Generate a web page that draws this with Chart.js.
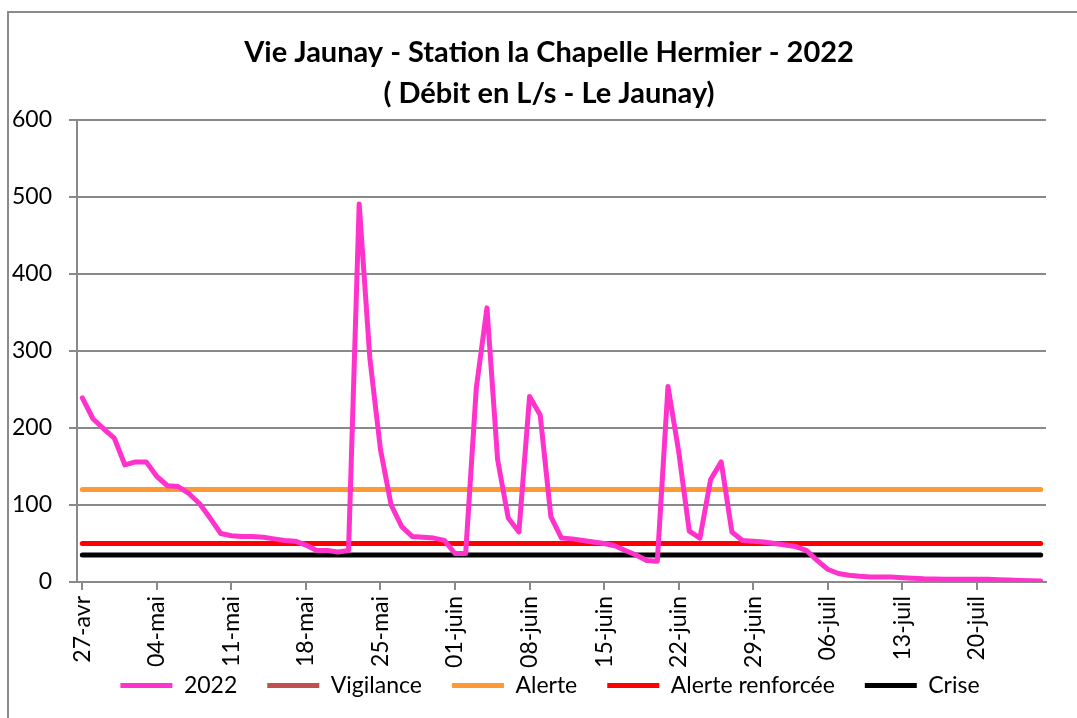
<!DOCTYPE html>
<html>
<head>
<meta charset="utf-8">
<script src="https://cdn.jsdelivr.net/npm/chart.js@4"></script>
<style>
  body { margin: 0; background: #fff; }
  #wrap { position: relative; width: 1077px; height: 718px; overflow: hidden; }
  #frame { position: absolute; left: 7px; top: 11px; width: 1200px; height: 800px;
           border-left: 2px solid #8a8a8a; border-top: 2px solid #8a8a8a; }
  #chart { position: absolute; left: 0; top: 0; }
</style>
</head>
<body>
<div id="wrap">
  <div id="frame"></div>
  <canvas id="chart" width="1077" height="718"></canvas>
</div>
<script>
// days shown on the category axis (27 avril -> 26 juillet 2022)
const months = [
    { name: 'avr', from: 27, to: 30 },
    { name: 'mai', from: 1, to: 31 },
    { name: 'juin', from: 1, to: 30 },
    { name: 'juil', from: 1, to: 26 }
];
const days = [];
months.forEach(m => {
    for (let d = m.from; d <= m.to; d++) {
        days.push(String(d).padStart(2, '0') + '-' + m.name);
    }
});

// débit journalier 2022 (L/s)
const debit2022 = [
    239, 212, 199, 187, 152, 156, 156, 137, 125, 124,
    115, 102, 83, 63, 60, 59, 59, 58, 56, 54,
    53, 48, 41, 41, 39, 41, 491, 291, 172, 100,
    72, 59, 58, 57, 54, 37, 37, 252, 356, 159,
    83, 65, 241, 217, 85, 57, 56, 54, 52, 50,
    47, 41, 35, 28, 27, 254, 170, 66, 57, 133,
    156, 65, 54, 53, 52, 50, 48, 46, 41, 28,
    16.5, 11, 8.7, 7.4, 6.5, 6.5, 6.5, 5.6, 5, 4.3,
    4, 3.5, 3.5, 3.5, 3.5, 3.5, 3, 2.5, 2, 1.7,
    1.3
];

// seuils (L/s)
const seuilVigilance = [];
const seuilAlerte = [120, 120];
const seuilAlerteRenforcee = [50, 50];
const seuilCrise = [35, 35];

const yTicks = [0, 100, 200, 300, 400, 500, 600];

const first = days[0];
const last = days[days.length - 1];
const seuil = vals => vals.map((v, i) => ({ x: i === 0 ? first : last, y: v }));

const font = "Lato, 'Liberation Sans', sans-serif";
const grey = '#898989';

// pull the legend up under the x labels, and centre legend + title like the original
const boxShift = {
    id: 'boxShift',
    afterLayout(chart) {
        const l = chart.legend;
        l.top -= 24;
        l.left += 22; l.right += 22;
        const t = chart.titleBlock;
        t.left += 21; t.right += 21;
    }
};

document.addEventListener('DOMContentLoaded', () => {
    const line = (label, data, color) => ({
        label: label,
        data: data,
        borderColor: color,
        backgroundColor: color,
        borderWidth: 5,
        pointRadius: 0,
        tension: 0,
        fill: false,
        borderCapStyle: 'round',
        borderJoinStyle: 'round'
    });

    const data = {
        labels: days,
        datasets: [
            line('2022', debit2022, '#ff33cc'),
            line('Vigilance', seuilVigilance, '#c0504d'),
            line('Alerte', seuil(seuilAlerte), '#ff9933'),
            line('Alerte renforcée', seuil(seuilAlerteRenforcee), '#ff0000'),
            line('Crise', seuil(seuilCrise), '#000000')
        ]
    };

    const config = {
        type: 'line',
        data: data,
        plugins: [boxShift],
        options: {
            responsive: false,
            animation: false,
            layout: {
                padding: { left: 10, right: 31, top: 0, bottom: 0 }
            },
            plugins: {
                title: {
                    display: true,
                    text: ['Vie Jaunay - Station la Chapelle Hermier - 2022', '( Débit en L/s - Le Jaunay)'],
                    color: '#000',
                    font: { family: font, size: 29, weight: 'bold', lineHeight: 1.414 },
                    padding: { top: 32, bottom: 6 }
                },
                legend: {
                    position: 'bottom',
                    maxHeight: 50,
                    labels: {
                        color: '#000',
                        font: { family: font, size: 23 },
                        boxWidth: 52,
                        boxHeight: 5,
                        padding: 30,
                        generateLabels: chart => Chart.defaults.plugins.legend.labels.generateLabels(chart)
                            .map(item => Object.assign(item, { lineWidth: 0 }))
                    }
                },
                tooltip: { enabled: false }
            },
            scales: {
                x: {
                    type: 'category',
                    offset: true,
                    grid: {
                        drawOnChartArea: false,
                        drawTicks: true,
                        tickLength: 8,
                        lineWidth: 2,
                        color: ctx => (ctx.index === undefined || ctx.index % 7 === 0) ? grey : 'rgba(0,0,0,0)'
                    },
                    border: { display: true, color: grey, width: 2 },
                    ticks: {
                        autoSkip: false,
                        minRotation: 90,
                        maxRotation: 90,
                        padding: 6,
                        color: '#000',
                        font: { family: font, size: 23 },
                        callback: function (value, index) {
                            return index % 7 === 0 ? this.getLabelForValue(value) : '';
                        }
                    },
                    afterFit: scale => { scale.height = 86; }
                },
                y: {
                    min: 0,
                    max: 600,
                    afterBuildTicks: scale => { scale.ticks = yTicks.map(v => ({ value: v })); },
                    grid: {
                        color: grey,
                        lineWidth: 2,
                        tickLength: 8
                    },
                    border: { display: true, color: grey, width: 2 },
                    ticks: {
                        padding: 17,
                        color: '#000',
                        font: { family: font, size: 23 }
                    },
                    afterFit: scale => { scale.width = 67; }
                }
            }
        }
    };

    const ctx = document.getElementById('chart').getContext('2d');
    new Chart(ctx, config);
});
</script>
</body>
</html>
